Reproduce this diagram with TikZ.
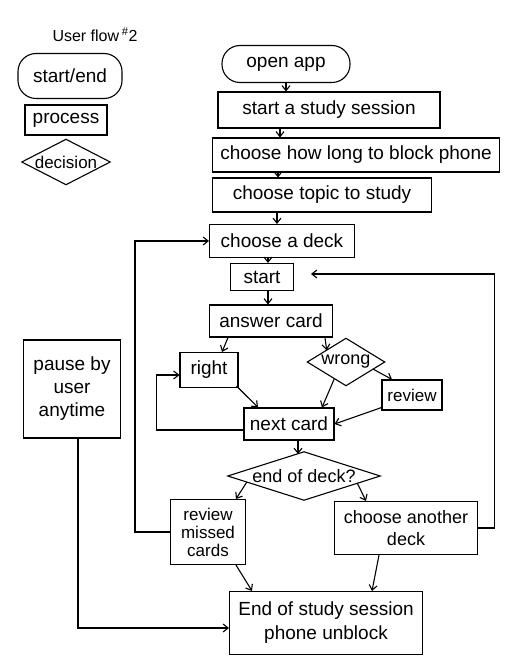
\documentclass[tikz,border=0pt]{standalone}
\usepackage{fontspec}
\setmainfont{Liberation Sans}
\usetikzlibrary{arrows.meta,calc}
\tikzset{
  ink/.style={line width=1.1pt, draw=black},
  proc/.style={ink, rectangle, inner sep=1pt, align=center, font=\fontsize{19}{22}\selectfont},
  term/.style={proc, rounded corners=18pt},
  dectxt/.style={rectangle, inner sep=0pt, align=center, font=\fontsize{18}{21}\selectfont},
  arr/.style={line width=1.1pt, draw=black, -{Straight Barb[length=5pt,width=8pt]}},
  ln/.style={line width=1.1pt, draw=black}
}
\begin{document}
\begin{tikzpicture}[x=1pt,y=-1pt]
\useasboundingbox[fill=white] (0,0) rectangle (531,671);

% legend
\node[font=\fontsize{16}{18}\selectfont] (title) at (95,35) {User flow\,\textsuperscript{\#}2};
\node[term, minimum width=104, minimum height=45] (lstart) at (70,76) {start/end};
\node[proc, minimum width=82, minimum height=30] (lproc) at (66,120) {process};
\node[dectxt, minimum width=88, minimum height=45, font=\fontsize{17}{20}\selectfont] (ldec) at (66,162) {decision};
\draw[ink] (ldec.north) -- (ldec.east) -- (ldec.south) -- (ldec.west) -- cycle;

% main column
\node[term, minimum width=128, minimum height=37] (open) at (286,64) {open app};
\node[proc, minimum width=222, minimum height=36] (sess) at (329,110) {start a study session};
\node[proc, minimum width=287, minimum height=34] (howlong) at (356,155) {choose how long to block phone};
\node[proc, minimum width=219, minimum height=34] (topic) at (322,195) {choose topic to study};
\node[proc, minimum width=145, minimum height=33] (deck) at (282,241) {choose a deck};
\node[proc, minimum width=63, minimum height=27] (start) at (262,277) {start};
\node[proc, minimum width=123, minimum height=32] (answer) at (271,321) {answer card};
\node[proc, minimum width=58, minimum height=35] (right) at (209,370) {right};
\node[dectxt, minimum width=77, minimum height=47] (wrong) at (346,362) {wrong};
\draw[ink] (wrong.north) -- (wrong.east) -- (wrong.south) -- (wrong.west) -- cycle;
\node[proc, minimum width=60, minimum height=30, font=\fontsize{17}{20}\selectfont] (review) at (412,395) {review};
\node[proc, minimum width=90, minimum height=32] (next) at (289,424) {next card};
\node[dectxt, minimum width=152, minimum height=48] (eod) at (304,476) {end of deck?};
\draw[ink] (eod.north) -- (eod.east) -- (eod.south) -- (eod.west) -- cycle;
\node[proc, minimum width=75, minimum height=65, font=\fontsize{17}{18}\selectfont] (missed) at (208,532) {review\\missed\\cards};
\node[proc, minimum width=143, minimum height=53, font=\fontsize{18}{22}\selectfont] (another) at (406,528) {choose another\\deck};
\node[proc, minimum width=193, minimum height=63, font=\fontsize{19}{24}\selectfont] (endss) at (326,623) {End of study session\\phone unblock};
\node[proc, minimum width=97, minimum height=98, font=\fontsize{19}{23}\selectfont] (pause) at (72,389) {pause by\\user\\anytime};

% connectors
\draw[arr] (open.south) -- (open.south |- sess.north);
\draw[arr] (280,0 |- sess.south) -- (280,0 |- howlong.north);
\draw[arr] (278,0 |- howlong.south) -- (278,0 |- topic.north);
\draw[arr] (277,0 |- topic.south) -- (277,0 |- deck.north);
\draw[arr] (268,0 |- deck.south) -- (268,0 |- start.north);
\draw[arr] (268,0 |- start.south) -- (268,0 |- answer.north);
\draw[arr] (228,0 |- answer.south) -- (222,0 |- right.north);
\draw[arr] (325,0 |- answer.south) -- ($(wrong.north)!0.5!(wrong.west)$);
\draw[arr] ($(wrong.east)!0.3!(wrong.south)$) -- (392,0 |- review.north);
\draw[arr] ($(wrong.south)!0.3!(wrong.west)$) -- (322,0 |- next.north);
\draw[arr] ($(review.south west)+(0,-3)$) -- (next.east);
\draw[arr] ($(right.south east)+(-2,-2)$) -- (258,0 |- next.north);
\draw[arr] ($(next.west)+(0,6)$) -- ++(-87,0) |- ($(right.west)+(0,5)$);
\draw[arr] (298,0 |- next.south) -- (298,454);
\draw[arr] ($(eod.west)!0.25!(eod.south)$) -- (236,0 |- missed.north);
\draw[arr] ($(eod.east)!0.3!(eod.south)$) -- (366,0 |- another.north);
\draw[arr] (missed.west) -- ++(-35,0) |- (deck.west);
\draw[arr] (236,0 |- missed.south) -- (252,0 |- endss.north);
\draw[arr] (379,0 |- another.south) -- (372,0 |- endss.north);
\draw[arr] (another.east) -- ++(16,0) |- ($(start.east)+(17,-3)$);
\draw[arr] (78,0 |- pause.south) |- ($(endss.west)+(0,5)$);
\end{tikzpicture}
\end{document}
